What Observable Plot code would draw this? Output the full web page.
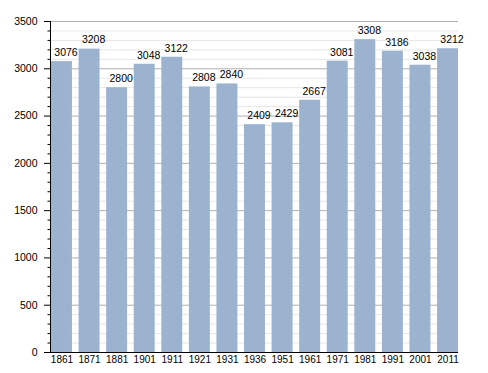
<!DOCTYPE html>
<html>
<head>
<meta charset="utf-8">
<script src="https://cdn.jsdelivr.net/npm/d3@7"></script>
<script src="https://cdn.jsdelivr.net/npm/@observablehq/plot@0.6"></script>
<style>
  html, body { margin: 0; padding: 0; background: #fff; }
  svg { display: block; }
</style>
</head>
<body>
<div id="chart"></div>
<script>
const years = ["1861","1871","1881","1901","1911","1921","1931","1936","1951","1961","1971","1981","1991","2001","2011"];
const population = [3076,3208,2800,3048,3122,2808,2840,2409,2429,2667,3081,3308,3186,3038,3212];
const majorTicks = [0,500,1000,1500,2000,2500,3000,3500];
const minorTicks = d3.range(0, 3501, 100).filter(v => v % 500 !== 0);

const data = years.map((y, i) => ({year: y, value: population[i]}));

const chart = Plot.plot({
  width: 488,
  height: 373,
  marginLeft: 50,
  marginRight: 30,
  marginTop: 21,
  marginBottom: 21,
  style: {fontFamily: "'Liberation Sans', Arial, Helvetica, sans-serif", fontSize: "10.5px", color: "#000", background: "#fff"},
  x: {domain: years, range: [51, 458], round: false, paddingInner: 0.24, paddingOuter: 0, align: 0.5, label: null},
  y: {domain: [0, 3500], label: null},
  marks: [
    Plot.ruleY(minorTicks, {stroke: "#e6e6e6", strokeWidth: 1}),
    Plot.ruleY(majorTicks.filter(v => v > 0), {stroke: "#b0b0b0", strokeWidth: 1}),
    Plot.barY(data, {x: "year", y: "value", fill: "#9bb3cf"}),
    Plot.text(data, {x: "year", y: "value", text: d => String(d.value), dy: -9, dx: 4, fill: "#000", fontSize: 10.5}),
    Plot.axisY(minorTicks, {tickSize: 2.5, text: null, stroke: "#000"}),
    Plot.axisY(majorTicks, {tickSize: 6, tickPadding: 7, tickFormat: "d", stroke: "#000", fill: "#000", label: null}),
    Plot.axisX({tickSize: 0, tickPadding: 3, fill: "#000", fontSize: 10, label: null}),
    Plot.frame({anchor: "left", stroke: "#000"}),
    Plot.ruleY([0], {stroke: "#000", strokeWidth: 1.2})
  ]
});
document.getElementById("chart").appendChild(chart);
</script>
</body>
</html>
